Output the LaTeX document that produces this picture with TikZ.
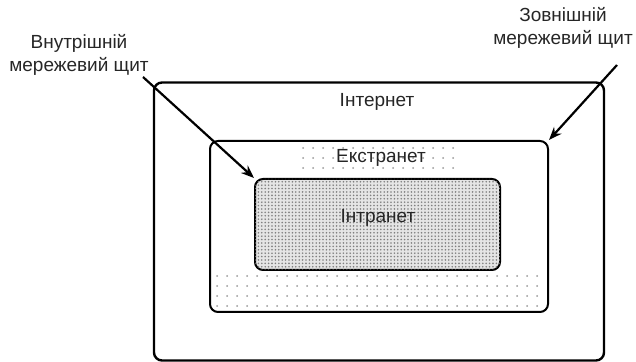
\documentclass[tikz,border=0pt]{standalone}
\usepackage{fontspec}
\setmainfont{Liberation Sans}
\usetikzlibrary{arrows.meta,patterns.meta}
\tikzdeclarepattern{
  name=intradots,
  type=uncolored,
  bottom left={(-1pt,-1pt)},
  top right={(1pt,1pt)},
  tile size={(1.7pt,1.7pt)},
  code={\fill (0pt,0pt) circle (0.45pt);}
}
\begin{document}
\begin{tikzpicture}[x=0.5pt,y=-0.5pt,
    netbox/.style={draw,rounded corners=4pt,line width=1pt,inner sep=0pt},
    nettext/.style={align=center,font=\fontsize{9.5}{11.5}\selectfont,text=black!85},
    wall/.style={-{Stealth[length=6.5pt,width=5pt]},line width=1.1pt}]
  \useasboundingbox (0,0) rectangle (636,362);
  \node[netbox,line width=1.2pt,minimum width=225pt,minimum height=139pt] (internet) at (379,221.5) {};
  \node[netbox,fill=white,minimum width=169pt,minimum height=85.5pt] (extranet) at (379,226.5) {};
  % dotted fill of the extranet
  \foreach \x in {303,313,...,453}
    \foreach \y in {148,158,168}
      \fill[gray!80] (\x,\y) circle (0.5pt);
  \foreach \x in {217,227,...,541}
    \foreach \y in {276,286,296,306}
      \fill[gray!80] (\x,\y) circle (0.5pt);
  \node[netbox,fill=gray!20,postaction={pattern=intradots,pattern color=gray},
    minimum width=122.5pt,minimum height=45.5pt] (intranet) at (377.5,224.5) {};
  \node[nettext] (tinternet) at (377,102) {Інтернет};
  \node[nettext] (textranet) at (381,158) {Екстранет};
  \node[nettext] (tintranet) at (378,218) {Інтранет};
  \node[nettext] (inner) at (79,55) {Внутрішній\\мережевий щит};
  \node[nettext] (outer) at (563,28) {Зовнішній\\мережевий щит};
  \coordinate (innerend) at (143,77);
  \coordinate (outerend) at (617,65);
  \draw[wall] (innerend) -- (intranet.north west);
  \draw[wall] (outerend) -- (extranet.north east);
\end{tikzpicture}
\end{document}
